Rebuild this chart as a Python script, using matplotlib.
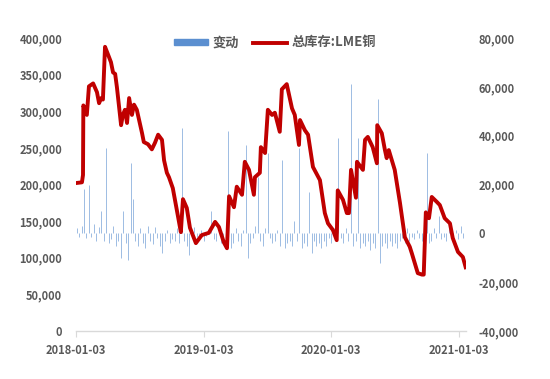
import pandas as pd
import matplotlib
matplotlib.use('Agg')
import matplotlib.pyplot as plt
from matplotlib.patches import Patch
from matplotlib.lines import Line2D
from matplotlib.ticker import FuncFormatter

plt.rcParams['font.family'] = ['Noto Sans CJK SC', 'DejaVu Sans']

# total LME copper stock (left axis), key points
stock_dates = [
    '2018-01-03', '2018-01-20', '2018-01-23', '2018-01-24', '2018-02-03', '2018-02-09',
    '2018-02-21', '2018-03-04', '2018-03-10', '2018-03-16', '2018-03-21', '2018-03-27',
    '2018-04-05', '2018-04-13', '2018-04-19', '2018-04-25', '2018-04-30', '2018-05-12',
    '2018-05-17', '2018-05-23', '2018-05-29', '2018-06-04', '2018-06-12', '2018-06-18',
    '2018-06-26', '2018-07-11', '2018-07-16', '2018-07-28', '2018-08-08', '2018-08-17',
    '2018-08-26', '2018-09-06', '2018-09-12', '2018-09-20', '2018-09-26', '2018-10-07',
    '2018-10-22', '2018-10-30', '2018-11-05', '2018-11-16', '2018-11-25', '2018-12-12',
    '2018-12-29', '2019-01-18', '2019-02-05', '2019-02-16', '2019-03-02', '2019-03-11',
    '2019-03-17', '2019-03-31', '2019-04-08', '2019-04-23', '2019-05-01', '2019-05-13',
    '2019-05-27', '2019-05-30', '2019-06-13', '2019-06-16', '2019-06-28', '2019-07-06',
    '2019-07-18', '2019-07-26', '2019-08-09', '2019-08-15', '2019-08-29', '2019-09-13',
    '2019-09-21', '2019-10-03', '2019-10-06', '2019-10-20', '2019-10-29', '2019-11-12',
    '2019-12-02', '2019-12-16', '2019-12-25', '2020-01-08', '2020-01-19', '2020-01-22',
    '2020-02-06', '2020-02-17', '2020-02-23', '2020-02-29', '2020-03-14', '2020-03-17',
    '2020-04-03', '2020-04-09', '2020-04-17', '2020-05-01', '2020-05-13', '2020-05-14',
    '2020-05-27', '2020-06-05', '2020-06-10', '2020-06-16', '2020-07-03', '2020-07-18',
    '2020-08-01', '2020-08-15', '2020-08-21', '2020-09-07', '2020-09-19', '2020-09-24',
    '2020-09-30', '2020-10-09', '2020-10-17', '2020-11-01', '2020-11-09', '2020-11-23',
    '2020-12-08', '2020-12-16', '2020-12-31', '2021-01-14', '2021-01-22',
]
stock_values = [
    202000, 203000, 213000, 308000, 295000, 334000,
    338000, 326000, 311000, 318000, 316000, 388000,
    377000, 367000, 353000, 351000, 333000, 281000,
    295000, 302000, 284000, 318000, 295000, 309000,
    302000, 270000, 258000, 255000, 248000, 257000,
    268000, 261000, 233000, 216000, 210000, 195000,
    156000, 135000, 180000, 168000, 141000, 120000,
    131000, 134000, 149000, 142000, 121000, 113000,
    184000, 169000, 197000, 186000, 231000, 220000,
    186000, 210000, 216000, 251000, 243000, 302000,
    295000, 298000, 272000, 330000, 337000, 304000,
    295000, 254000, 288000, 274000, 268000, 224000,
    206000, 161000, 147000, 138000, 124000, 192000,
    179000, 161000, 161000, 220000, 182000, 231000,
    220000, 261000, 265000, 251000, 229000, 281000,
    270000, 247000, 236000, 247000, 220000, 175000,
    128000, 115000, 106000, 79000, 77000, 77000,
    162000, 154000, 183000, 176000, 172000, 154000,
    147000, 127000, 108000, 101000, 87000,
]

# weekly change (right axis), starting 2018-01-05
change_start = '2018-01-05'
change_values = [
    2000, -1500, 3000, 18000, -2000, 20000, -1500, 4000, -3000, 2500,
    9000, -3000, 35000, -4000, -2500, 3000, -5000, -3000, -10000, 9000,
    -4000, -11000, 29000, 14000, -3000, -5000, 2000, -4000, -6000, 3000,
    -3000, -4500, 2500, -2000, -5000, -8000, -3000, 1500, -4000, -2500,
    -3000, 2000, -4000, 43000, -3000, -5000, -9000, -2000, 2500, -1500,
    -2000, 1500, -3000, -1000, 2000, 9000, -2500, -3000, 1500, -4000,
    -2000, -3000, 42000, -6000, -4000, 2000, -3000, -5000, 1500, 36000,
    -10000, -4000, -2000, 3000, 23000, -3000, -5000, 2000, 33000, -2000,
    -4000, -3000, 1500, -5000, 30000, -6000, -4000, -3000, -5000, 5000,
    -3000, 35000, -6000, -4000, -5000, 17000, -8000, -3000, -5000, -4000,
    -6000, -3000, -5000, -2000, -4000, 2000, -3000, 39000, -2000, -4000,
    2000, -3000, 61000, -5000, -3000, 39000, -6000, -4000, -5000, -3000,
    -7000, -4000, -6000, 55000, -12000, -5000, -4000, -6000, -3000, -5000,
    -4000, -6000, -3000, -2000, -4000, 2000, -3000, -1500, -2500, 1500,
    -2000, -3000, 2500, 33000, -4000, -3000, 2000, -2000, 7000, -2500,
    -1500, -3000, 2000, -2000, -1000, 1500, -2500, 3000, -2000,
]

tick_dates = ['2018-01-03', '2019-01-03', '2020-01-03', '2021-01-03']

stock_x = pd.to_datetime(stock_dates)
change_x = pd.date_range(change_start, periods=len(change_values), freq='7D')
ticks_x = pd.to_datetime(tick_dates)

label_color = '#595959'

fig = plt.figure(figsize=(5.5, 3.79), dpi=100)
ax1 = fig.add_axes([0.1382, 0.1266, 0.7091, 0.7731])
ax2 = ax1.twinx()

ax2.vlines(change_x, 0, change_values, color='#9DBCE3', linewidth=0.7)
ax1.plot(stock_x, stock_values, color='#C00000', linewidth=2.8, solid_joinstyle='round')

ax1.set_zorder(ax2.get_zorder() + 1)
ax1.patch.set_visible(False)

ax1.set_ylim(0, 400000)
ax2.set_ylim(-40000, 80000)
ax1.set_yticks(range(0, 400001, 50000))
ax2.set_yticks(range(-40000, 80001, 20000))
fmt = FuncFormatter(lambda v, p: f'{int(v):,}')
ax1.yaxis.set_major_formatter(fmt)
ax2.yaxis.set_major_formatter(fmt)

ax1.set_xlim(pd.Timestamp('2018-01-03'), pd.Timestamp('2021-01-23'))
ax1.set_xticks(ticks_x)
ax1.set_xticklabels(tick_dates)

for ax in (ax1, ax2):
    for s in ax.spines.values():
        s.set_visible(False)
ax1.spines['bottom'].set_visible(True)
ax1.spines['bottom'].set_color('#D9D9D9')
ax1.spines['bottom'].set_linewidth(1)

ax1.tick_params(axis='x', length=4, color='#D9D9D9', pad=5, labelsize=8, labelcolor=label_color)
ax1.tick_params(axis='y', length=0, pad=10, labelsize=8, labelcolor=label_color)
ax2.tick_params(axis='y', length=0, pad=9, labelsize=8, labelcolor=label_color)
for lab in ax1.get_xticklabels() + ax1.get_yticklabels() + ax2.get_yticklabels():
    lab.set_fontweight('bold')

handles = [Patch(color='#5B8FD0'), Line2D([0], [0], color='#C00000', linewidth=2.8)]
fig.legend(handles, ['变动', '总库存:LME铜'], loc='center', bbox_to_anchor=(0.5, 0.888),
           ncol=2, frameon=False, handlelength=2.6, handleheight=0.3, handletextpad=0.35,
           columnspacing=1.0, prop={'weight': 'bold', 'size': 9.5},
           labelcolor=label_color)

fig.savefig('out.png', dpi=100)
